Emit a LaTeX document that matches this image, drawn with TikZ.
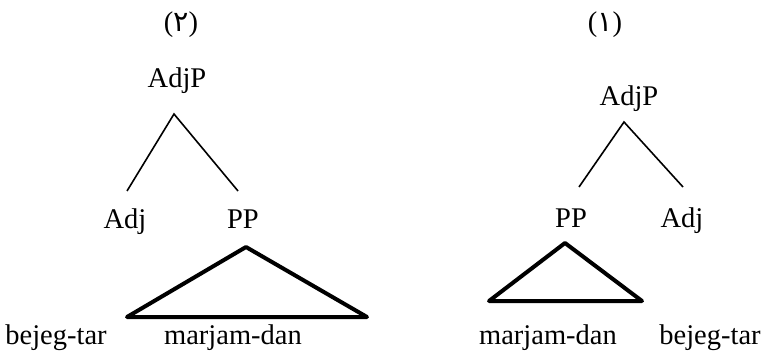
\documentclass[tikz,border=0pt]{standalone}
\usepackage{fontspec}
\setmainfont{Liberation Serif}
\newfontfamily\arabicfont[Script=Arabic]{DejaVu Sans}
\begin{document}
\begin{tikzpicture}[x=1pt,y=-1pt,
  lbl/.style={inner sep=0pt, anchor=base, font=\fontsize{28.5}{31}\selectfont},
  branch/.style={line width=1.6pt},
  tri/.style={line width=4pt, line join=round}]
\useasboundingbox (0,0) rectangle (762,358);
% ---- left tree (2)
\node[lbl] (n2) at (181,32) {({\arabicfont ۲})};
\node[lbl] (lAdjP) at (177,88) {AdjP};
\coordinate (lTop) at (174,114);
\coordinate (lL) at (127,191);
\coordinate (lR) at (238,191);
\draw[branch] (lL) -- (lTop) -- (lR);
\node[lbl] (lAdj) at (125,228) {Adj};
\node[lbl] (lPP) at (243,228) {PP};
\coordinate (lTa) at (246,247);
\coordinate (lTl) at (127,317);
\coordinate (lTr) at (367,317);
\draw[tri] (lTa) -- (lTl) -- (lTr) -- cycle;
\node[lbl] (lw1) at (56,344) {bejeg-tar};
\node[lbl] (lw2) at (233,344) {marjam-dan};
% ---- right tree (1)
\node[lbl] (n1) at (605,32) {({\arabicfont ۱})};
\node[lbl] (rAdjP) at (629,106) {AdjP};
\coordinate (rTop) at (624,122);
\coordinate (rL) at (579,187);
\coordinate (rR) at (683,187);
\draw[branch] (rL) -- (rTop) -- (rR);
\node[lbl] (rPP) at (571,227) {PP};
\node[lbl] (rAdj) at (682,227) {Adj};
\coordinate (rTa) at (565,243);
\coordinate (rTl) at (489,301);
\coordinate (rTr) at (642,301);
\draw[tri] (rTa) -- (rTl) -- (rTr) -- cycle;
\node[lbl] (rw1) at (548,344) {marjam-dan};
\node[lbl] (rw2) at (710,344) {bejeg-tar};
\end{tikzpicture}
\end{document}
